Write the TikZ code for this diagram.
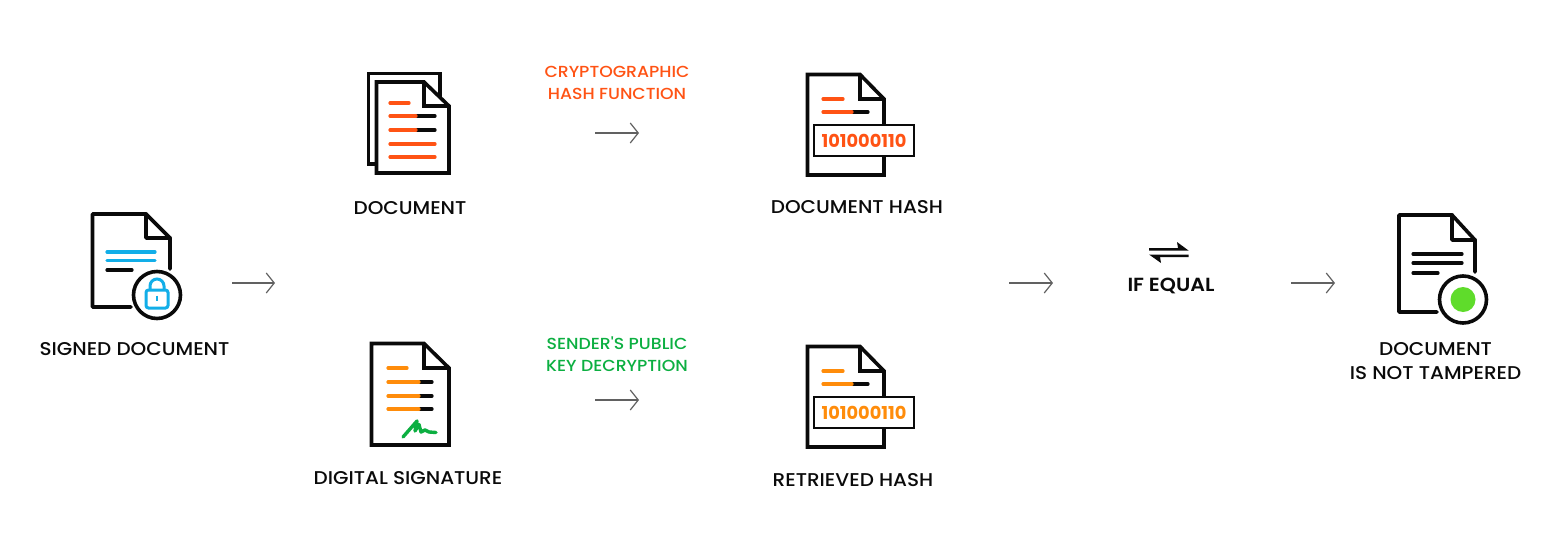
\documentclass[tikz,border=0pt]{standalone}
\usepackage{fontspec}
\setmainfont{Poppins}
\usetikzlibrary{arrows.meta}
\definecolor{hashred}{HTML}{FF5314}
\definecolor{amber}{HTML}{FF8C0A}
\definecolor{sky}{HTML}{12AEE8}
\definecolor{signgreen}{HTML}{0CAF41}
\definecolor{dotgreen}{HTML}{5FDC2B}
\definecolor{ink}{HTML}{0A0A0A}
\newfontfamily\labelfont[FakeStretch=1.08]{Poppins Medium}
\newfontfamily\strongfont[FakeStretch=1.08]{Poppins SemiBold}
\newfontfamily\bitsfont{Poppins Bold}
\tikzset{
  x=1pt,y=-1pt,
  outline/.style={draw=ink,line width=3.6pt,line join=miter,line cap=butt,fill=white},
  softline/.style={draw=ink,line width=3.6pt,line join=round,line cap=round},
  bar/.style={line width=3.2pt,line cap=round},
  flow/.style={draw=black!62,line width=1.2pt,-{Straight Barb[length=8pt,width=20pt,line width=1.2pt]}},
  caption/.style={anchor=base,align=center,inner sep=0pt,text=ink,font=\labelfont\fontsize{18.5}{24}\selectfont},
  stage/.style={anchor=base,align=center,inner sep=0pt,font=\labelfont\fontsize{16}{21.5}\selectfont},
  hashbox/.style={draw=ink,line width=1.2pt,fill=white,minimum width=100pt,minimum height=31pt,inner sep=0pt,font=\bitsfont\fontsize{17.8}{20}\selectfont},
}
\begin{document}
\begin{tikzpicture}
\useasboundingbox (0,0) rectangle (1563,538);
% signed document
\draw[softline] (131,307) -- (92.5,307) -- (92.5,214) -- (146,214) -- (170,238) -- (170,269);
\draw[softline] (146,214) -- (146,238) -- (170,238);
\draw[bar,sky] (107,252) -- (155,252);
\draw[bar,sky] (107,260.5) -- (155,260.5);
\draw[bar,ink] (107,270) -- (132,270);
\node[circle,draw=ink,line width=3.6pt,fill=white,minimum size=47pt,inner sep=0pt] (lockring) at (157,295) {};
\draw[sky,line width=3pt,rounded corners=2.5pt] (146,290) rectangle (168,308);
\draw[sky,line width=3pt] (150,290) -- (150,286) arc[start angle=180,end angle=360,radius=7] -- (164,290);
\draw[sky,line width=2.6pt] (157,295.5) -- (157,300.5);
\node[caption] (signed) at (134.5,355) {SIGNED DOCUMENT};
% document
\draw[outline,fill=none] (378,164) -- (368.5,164) -- (368.5,73.5) -- (440,73.5) -- (440,97);
\draw[outline] (376.5,82) -- (424,82) -- (449,106) -- (449,173) -- (376.5,173) -- cycle;
\draw[outline,fill=none] (424,82) -- (424,106) -- (449,106);
\foreach \yy in {116,130}{\draw[bar,ink] (416,\yy) -- (435,\yy);\draw[bar,hashred] (390,\yy) -- (416,\yy);}
\draw[bar,hashred] (390,103) -- (409,103);
\draw[bar,hashred] (390,144) -- (435,144);
\draw[bar,hashred] (390,157) -- (435,157);
\node[caption] (document) at (410,214) {DOCUMENT};
% digital signature
\draw[outline] (371.5,343.5) -- (424,343.5) -- (449,368) -- (449,445) -- (371.5,445) -- cycle;
\draw[outline,fill=none] (424,343.5) -- (424,368) -- (449,368);
\draw[bar,amber] (388,368) -- (407,368);
\foreach \yy in {382,396,409}{\draw[bar,ink] (419,\yy) -- (432,\yy);\draw[bar,amber] (388,\yy) -- (419,\yy);}
\draw[signgreen,line width=3.4pt,line cap=round,line join=round] (403,437) -- (417,421) -- (415,431) -- (419,424.5) -- (421,432) -- (425,430) -- (429,432) -- (436,432.5);
\node[caption] (signature) at (408,484) {DIGITAL SIGNATURE};
% document hash
\draw[outline] (807.5,74.5) -- (860,74.5) -- (884,99) -- (884,175) -- (807.5,175) -- cycle;
\draw[outline,fill=none] (860,74.5) -- (860,99) -- (884,99);
\draw[bar,hashred] (823,99) -- (843,99);
\draw[bar,ink] (852,112) -- (868,112);
\draw[bar,hashred] (823,112) -- (852,112);
\node[hashbox,text=hashred] (bitsa) at (864,140.5) {101000110};
\node[caption] (dochash) at (857,213) {DOCUMENT HASH};
% retrieved hash
\draw[outline] (807.5,346.5) -- (860,346.5) -- (884,371) -- (884,447) -- (807.5,447) -- cycle;
\draw[outline,fill=none] (860,346.5) -- (860,371) -- (884,371);
\draw[bar,amber] (823,371) -- (843,371);
\draw[bar,ink] (852,384) -- (868,384);
\draw[bar,amber] (823,384) -- (852,384);
\node[hashbox,text=amber] (bitsb) at (864,412.5) {101000110};
\node[caption] (rethash) at (853,486) {RETRIEVED HASH};
% stage labels
\node[stage,text=hashred] (crypto) at (617,99) {CRYPTOGRAPHIC\\HASH FUNCTION};
\node[stage,text=signgreen] (sender) at (617,371) {SENDER'S PUBLIC\\KEY DECRYPTION};
% if equal
\fill[ink] (1149,248) -- (1178,248) -- (1177,242) -- (1188.5,250.5) -- (1149,250.5) -- cycle;
\fill[ink] (1188.5,257) -- (1160,257) -- (1161,263) -- (1149,254.5) -- (1188.5,254.5) -- cycle;
\node[caption,font=\strongfont\fontsize{19}{24}\selectfont] (equal) at (1171,291) {IF EQUAL};
% final document
\draw[softline] (1437,312) -- (1399,312) -- (1399,215) -- (1452,215) -- (1475,240) -- (1475,272);
\draw[softline] (1452,215) -- (1452,240) -- (1475,240);
\draw[bar,ink] (1413,254) -- (1462,254);
\draw[bar,ink] (1413,263) -- (1462,263);
\draw[bar,ink] (1413,273) -- (1438,273);
\node[circle,draw=ink,line width=3.6pt,fill=white,minimum size=47pt,inner sep=0pt] (okring) at (1463,299.5) {};
\node[circle,fill=dotgreen,minimum size=25pt,inner sep=0pt] (okdot) at (okring) {};
\node[caption] (tampered) at (1435.5,379.5) {DOCUMENT\\IS NOT TAMPERED};
% flow arrows
\coordinate (a1) at (232,283); \coordinate (a2) at (275,283);
\coordinate (b1) at (595,133); \coordinate (b2) at (639,133);
\coordinate (c1) at (595,400); \coordinate (c2) at (639,400);
\coordinate (d1) at (1009,283); \coordinate (d2) at (1053,283);
\coordinate (e1) at (1291,283); \coordinate (e2) at (1335,283);
\draw[flow] (a1) -- (a2);
\draw[flow] (b1) -- (b2);
\draw[flow] (c1) -- (c2);
\draw[flow] (d1) -- (d2);
\draw[flow] (e1) -- (e2);
\end{tikzpicture}
\end{document}
